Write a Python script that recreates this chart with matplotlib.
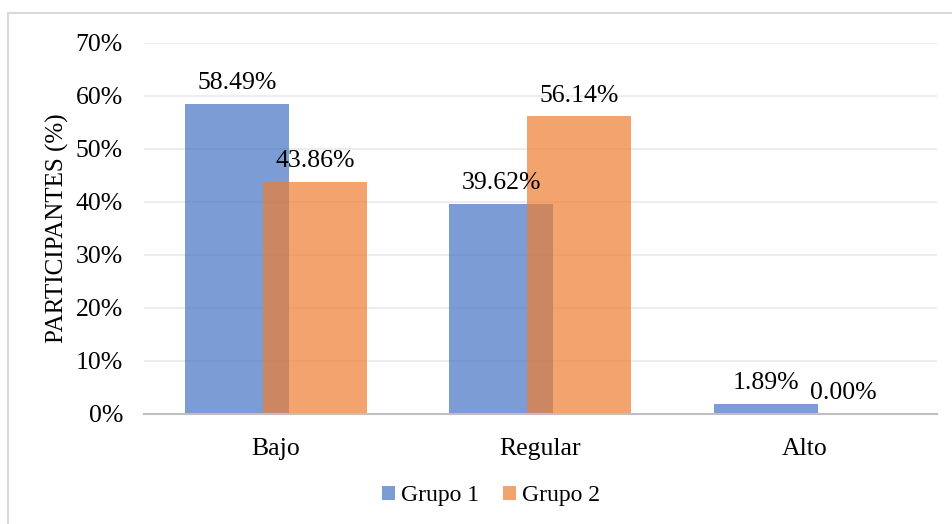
import matplotlib.pyplot as plt
import numpy as np
from matplotlib.patches import Rectangle
from matplotlib.ticker import PercentFormatter

plt.rcParams["font.family"] = ["Liberation Serif", "DejaVu Serif"]

categorias = ["Bajo", "Regular", "Alto"]
grupo1 = [58.49, 39.62, 1.89]
grupo2 = [43.86, 56.14, 0.00]
series = ["Grupo 1", "Grupo 2"]

fig = plt.figure(figsize=(9.52, 5.24), dpi=100)
ax = fig.add_axes([0.151, 0.210, 0.833, 0.708])

# marco del gráfico
fig.patches.append(Rectangle((7.5 / 952, -0.1), 1.0, 1.0 - 13.5 / 524 + 0.1,
                             transform=fig.transFigure, fill=False,
                             edgecolor="#D9D9D9", linewidth=1.5, zorder=0))

x = np.arange(len(categorias))
ancho = 0.393
desp = 0.147

b1 = ax.bar(x - desp, grupo1, ancho, color="#4472C4", alpha=0.7,
            label=series[0], zorder=2)
b2 = ax.bar(x + desp, grupo2, ancho, color="#ED7D31", alpha=0.7,
            label=series[1], zorder=3)

for barras in (b1, b2):
    for r in barras:
        v = r.get_height()
        ax.annotate(f"{v:.2f}%", (r.get_x() + r.get_width() / 2, v),
                    xytext=(0, 7), textcoords="offset points",
                    ha="center", va="bottom", fontsize=18.5, zorder=5)

ax.set_ylim(0, 70)
ax.set_xlim(-0.5, 2.5)
ax.set_yticks(range(0, 71, 10))
ax.yaxis.set_major_formatter(PercentFormatter(decimals=0))
ax.set_xticks(x)
ax.set_xticklabels(categorias)
ax.tick_params(axis="both", length=0, labelsize=18.5)
ax.tick_params(axis="y", pad=15)
ax.tick_params(axis="x", pad=17)
ax.grid(axis="y", color="#EDEDED", linewidth=1.5, zorder=0)
ax.set_axisbelow(True)
for s in ("top", "right", "left"):
    ax.spines[s].set_visible(False)
ax.spines["bottom"].set_color("#BFBFBF")
ax.spines["bottom"].set_linewidth(1.5)
ax.spines["bottom"].set_zorder(4)

ax.set_ylabel("PARTICIPANTES (%)", fontsize=18, labelpad=5)

ax.legend(loc="center", bbox_to_anchor=(491 / 952, 28 / 524),
          bbox_transform=fig.transFigure, ncol=2, frameon=False,
          fontsize=17, handlelength=0.55, handleheight=0.55,
          handletextpad=0.25, columnspacing=1.0)

fig.savefig("out.png", dpi=100)
